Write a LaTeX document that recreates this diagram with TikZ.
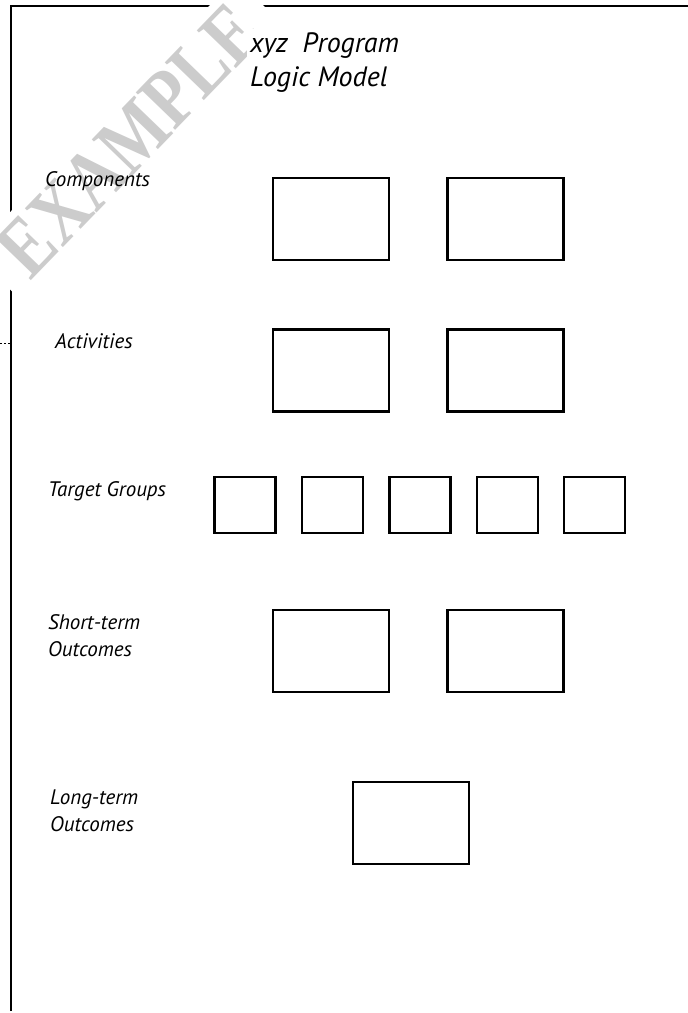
\documentclass[tikz,border=0pt]{standalone}
\usepackage{fontspec}
\setmainfont{PT Sans}
\newfontfamily\stampfont{Liberation Serif}
\usetikzlibrary{positioning}

\begin{document}
\begin{tikzpicture}[
    x=1pt, y=-1pt,
    node distance=24pt and 56pt,
    box/.style={draw, line width=2.4pt, minimum width=116pt, minimum height=82pt, inner sep=0pt},
    tgbox/.style={draw, line width=2.4pt, minimum width=61pt, minimum height=56pt, inner sep=0pt},
    rowlabel/.style={anchor=west, align=left, inner sep=0pt, font=\fontsize{21}{27}\selectfont\itshape},
    stamp/.style={fill=white, text=gray!40, inner xsep=20pt, inner ysep=8pt, font=\stampfont\bfseries\fontsize{83}{83}\selectfont},
  ]
  \useasboundingbox (0,0) rectangle (688,1013);

  % --- Page frame ---
  \draw[line width=2.4pt] (11,1011) |- (700,6);
  \draw[dashed, line width=0.8pt, dash pattern=on 2pt off 2pt] (0,343) -- (10,343);

  % --- Components ---
  \node[box] (comp1) at (331,219) {};
  \node[box, right=of comp1] (comp2) {};

  % --- Activities ---
  \node[box] (act1) at (331,370.5) {};
  \node[box, right=of act1] (act2) {};

  % --- Target Groups ---
  \node[tgbox] (tg1) at (245,505) {};
  \node[tgbox, right=24pt of tg1] (tg2) {};
  \node[tgbox, right=24pt of tg2] (tg3) {};
  \node[tgbox, right=24pt of tg3] (tg4) {};
  \node[tgbox, right=24pt of tg4] (tg5) {};

  % --- Outcomes ---
  \node[box] (short1) at (331,651) {};
  \node[box, right=of short1] (short2) {};
  \node[box] (long1) at (411,823) {};

  % --- Watermark ---
  \node[stamp, rotate=46] (wmark) at (129,140) {\scalebox{0.82}[1]{EXAMPLE}};

  % --- Labels ---
  \node[anchor=north west, fill=white, align=left, inner sep=3pt,
        font=\fontsize{28}{34}\selectfont\itshape] (title) at (247,29) {xyz\ \ Program\\Logic Model};
  \node[rowlabel] (lcomp) at (45,181) {Components};
  \node[rowlabel] (lact) at (55,341) {Activities};
  \node[rowlabel] (ltg) at (48,491) {Target Groups};
  \node[rowlabel] (lshort) at (48,636) {Short-term\\Outcomes};
  \node[rowlabel] (llong) at (50,811) {Long-term\\Outcomes};

\end{tikzpicture}
\end{document}
